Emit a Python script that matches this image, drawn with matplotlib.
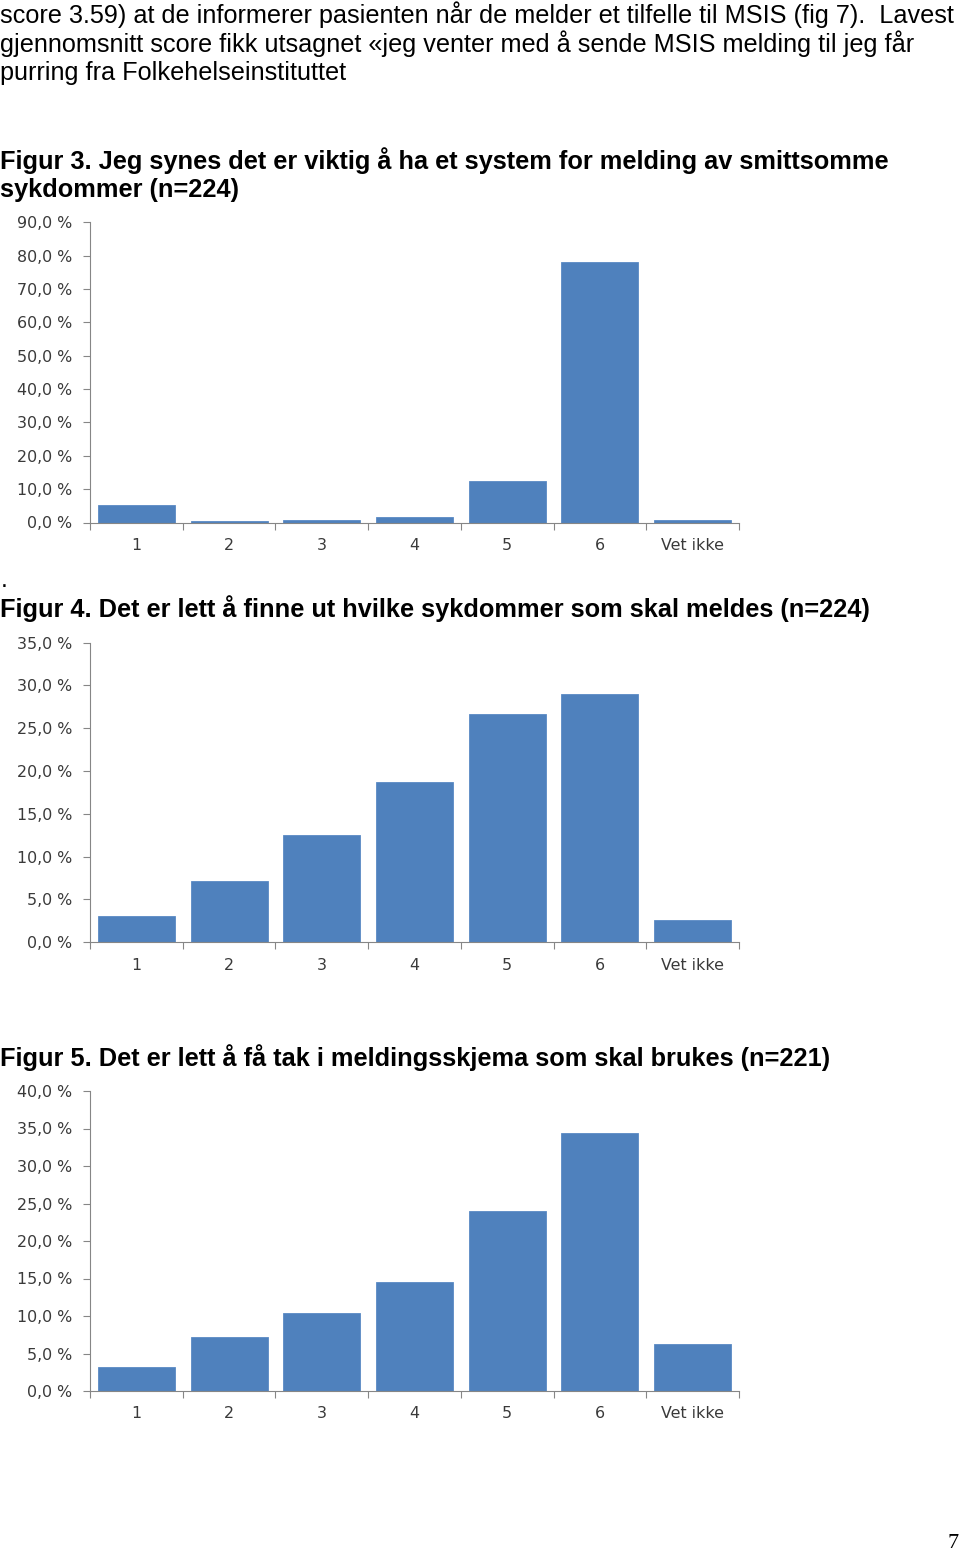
import numpy as np
import matplotlib
matplotlib.use("Agg")
import matplotlib.pyplot as plt
from matplotlib.ticker import FuncFormatter, MultipleLocator

# data
categories = ["1", "2", "3", "4", "5", "6", "Vet ikke"]
fig3_values = [5.4, 0.4, 0.9, 1.8, 12.4, 78.2, 0.9]
fig4_values = [3.1, 7.1, 12.5, 18.7, 26.7, 29.0, 2.6]
fig5_values = [3.2, 7.2, 10.4, 14.5, 24.0, 34.4, 6.3]

body_lines = [
    "score 3.59) at de informerer pasienten når de melder et tilfelle til MSIS (fig 7).  Lavest",
    "gjennomsnitt score fikk utsagnet «jeg venter med å sende MSIS melding til jeg får",
    "purring fra Folkehelseinstituttet",
]
title3 = ["Figur 3. Jeg synes det er viktig å ha et system for melding av smittsomme",
          "sykdommer (n=224)"]
title4 = "Figur 4. Det er lett å finne ut hvilke sykdommer som skal meldes (n=224)"
title5 = "Figur 5. Det er lett å få tak i meldingsskjema som skal brukes (n=221)"

text_font = "Liberation Sans"
tick_font = "DejaVu Sans"

W, H = 960, 1554
fig = plt.figure(figsize=(W / 100, H / 100), dpi=100)
renderer = fig.canvas.get_renderer()

def px_text(x, y, s, **kw):
    return fig.text(x / W, 1 - y / H, s, va="center", ha="left", **kw)

def fit_size(s, target, **kw):
    # font size that makes the line as wide as in the reference
    t = fig.text(0, 0, s, fontsize=10, **kw)
    w = t.get_window_extent(renderer).width
    t.remove()
    return 10 * target / w

body_fs = fit_size(body_lines[0], 958, family=text_font)
title_fs = fit_size(title3[0], 892, family=text_font, fontweight="bold")

for i, line in enumerate(body_lines):
    px_text(0, 15 + 29 * i, line, family=text_font, fontsize=body_fs)
px_text(0, 161, title3[0], family=text_font, fontsize=title_fs, fontweight="bold")
px_text(0, 190, title3[1], family=text_font, fontsize=title_fs, fontweight="bold")
px_text(1, 580, ".", family=text_font, fontsize=body_fs)
px_text(0, 609, title4, family=text_font, fontsize=title_fs, fontweight="bold")
px_text(0, 1058, title5, family=text_font, fontsize=title_fs, fontweight="bold")
fig.text(959 / W, 1 - 1543 / H, "7", ha="right", va="center",
         family="Liberation Serif", fontsize=16)

spine_col = "#868686"
label_col = "#3a3a3a"
bar_col = "#4F81BD"

def bar_chart(top_px, bottom_px, values, ymax, step):
    left, right = 90, 739
    ax = fig.add_axes([left / W, 1 - bottom_px / H, (right - left) / W,
                       (bottom_px - top_px) / H])
    x = np.arange(len(categories))
    ax.bar(x, values, width=0.83, color=bar_col, edgecolor="#5a8ac4", linewidth=0.6,
           zorder=2)
    ax.set_xlim(-0.5, len(categories) - 0.5)
    ax.set_ylim(0, ymax)
    ax.yaxis.set_major_locator(MultipleLocator(step))
    ax.yaxis.set_major_formatter(FuncFormatter(
        lambda v, p: f"{v:.1f}".replace(".", ",") + " %"))
    ax.set_xticks(np.arange(-0.5, len(categories)), labels=[])
    ax.set_xticks(x, labels=categories, minor=True)
    ax.tick_params(axis="x", which="major", length=5, width=0.8, color=spine_col,
                   direction="out")
    ax.tick_params(axis="x", which="minor", length=0, pad=11)
    ax.tick_params(axis="y", length=5, width=0.8, color=spine_col, pad=8)
    for lab in ax.get_xticklabels(minor=True) + ax.get_yticklabels():
        lab.set_family(tick_font)
        lab.set_fontsize(11.4)
        lab.set_color(label_col)
    for s in ["top", "right"]:
        ax.spines[s].set_visible(False)
    for s in ["left", "bottom"]:
        ax.spines[s].set_color(spine_col)
        ax.spines[s].set_linewidth(0.8)
    return ax

bar_chart(222.5, 522.5, fig3_values, 90, 10)
bar_chart(642.5, 942.3, fig4_values, 35, 5)
bar_chart(1091, 1391, fig5_values, 40, 5)

fig.savefig("out.png", dpi=100, facecolor="white")
